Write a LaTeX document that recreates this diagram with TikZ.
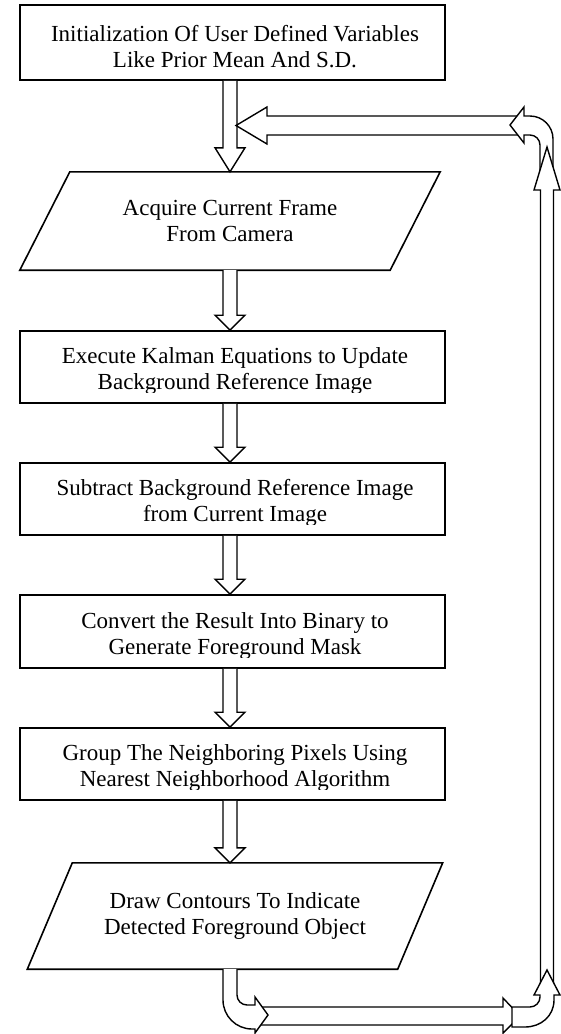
\documentclass[tikz,border=0pt]{standalone}
\usepackage{fontspec}
\setmainfont{Liberation Serif}
\usetikzlibrary{calc}
\newcommand{\vblock}[3]{%
  \draw[barrow] ($(#1.south-|ax)+(-7,0)$) -- ($(#2.north-|ax)+(-7,-#3)$) -- ($(#2.north-|ax)+(-15,-#3)$) -- (#2.north-|ax) -- ($(#2.north-|ax)+(15,-#3)$) -- ($(#2.north-|ax)+(7,-#3)$) -- ($(#1.south-|ax)+(7,0)$);}
\newcommand{\pgram}[2]{%
  \draw[line width=1.6pt, line join=miter] ($(#1.south west)+(-#2,0)$) -- ($(#1.south east)+(-#2,0)$) -- ($(#1.north east)+(#2,0)$) -- ($(#1.north west)+(#2,0)$) -- cycle;}
% rectangle box with its text (text clipped a little above the bottom edge)
\newcommand{\rbox}[5]{% name, y centre, height, text shift, text
  \node[box, minimum height=#3pt] (#1) at (232.5,#2) {};
  \begin{scope}
    \clip ($(#1.north west)+(0,1)$) rectangle ($(#1.south east)+(0,-11)$);
    \node[txt] (#1t) at ($(#1.center)+(2.5,#4)$) {#5};
  \end{scope}}
\begin{document}
\begin{tikzpicture}[x=1pt,y=-1pt,
  txt/.style={inner sep=0pt, align=center, font=\fontsize{23}{26}\selectfont},
  box/.style={draw, line width=1.6pt, minimum width=425pt, inner sep=0pt},
  pbox/.style={txt, minimum width=370pt},
  barrow/.style={draw, fill=white, line width=1.4pt, line join=miter}]
\useasboundingbox (0,0) rectangle (560,1034);
\coordinate (ax) at (230,0);

\rbox{b1}{42.5}{75}{4}{Initialization Of User Defined Variables\\Like Prior Mean And S.D.}
\node[pbox, minimum height=98pt] (b2) at (230,221) {Acquire Current Frame\\From Camera};
\pgram{b2}{25}
\rbox{b3}{367}{72}{4}{Execute Kalman Equations to Update\\Background Reference Image}
\rbox{b4}{499}{72}{4}{Subtract Background Reference Image\\from Current Image}
\rbox{b5}{631.5}{73}{4}{Convert the Result Into Binary to\\Generate Foreground Mask}
\rbox{b6}{764}{72}{4}{Group The Neighboring Pixels Using\\Nearest Neighborhood Algorithm}
\node[pbox, minimum height=106pt] (b7) at (235,916) {Draw Contours To Indicate\\Detected Foreground Object};
\pgram{b7}{22.5}

\vblock{b1}{b2}{24}
\vblock{b2}{b3}{15}
\vblock{b3}{b4}{15}
\vblock{b4}{b5}{15}
\vblock{b5}{b6}{15}
\vblock{b6}{b7}{15}

% top return arrow
\draw[barrow] (520,116) -- (267,116) -- (267,107) -- (236,125.5) -- (267,144) -- (267,135) -- (520,135) -- cycle;
% top-right bent arrow
\draw[barrow] (540,178) -- (540,145) .. controls (540,139.5) and (535.5,135) .. (530,135) -- (524,135) -- (524,143) -- (510,125) -- (524,107) -- (524,116) -- (530,116) .. controls (542.7,116) and (553,126.3) .. (553,139) -- (553,178) -- cycle;
% long vertical arrow
\draw[barrow] (540.5,985) -- (540.5,190) -- (534,190) -- (547,147) -- (560,190) -- (553.5,190) -- (553.5,985) -- cycle;
% bottom horizontal arrow
\draw[barrow] (258,1007) -- (503,1007) -- (503,998) -- (520,1016) -- (503,1033) -- (503,1025) -- (258,1025) -- cycle;
% bottom-left bent arrow
\draw[barrow] (223,969) -- (223,1000) .. controls (223,1016) and (236,1029) .. (252,1029) -- (255,1029) -- (255,1033) -- (268,1015) -- (255,997) -- (255,1005) -- (247,1005) .. controls (241.5,1005) and (237,1000.5) .. (237,995) -- (237,969);
% bottom-right bent arrow
\draw[barrow] (512,1007) -- (530,1007) .. controls (535.5,1007) and (540,1002.5) .. (540,997) -- (540,995) -- (534,995) -- (547,970) -- (560,995) -- (554,995) -- (554,1000) .. controls (554,1016) and (541,1027) .. (525,1027) -- (512,1027) -- cycle;
\end{tikzpicture}
\end{document}
